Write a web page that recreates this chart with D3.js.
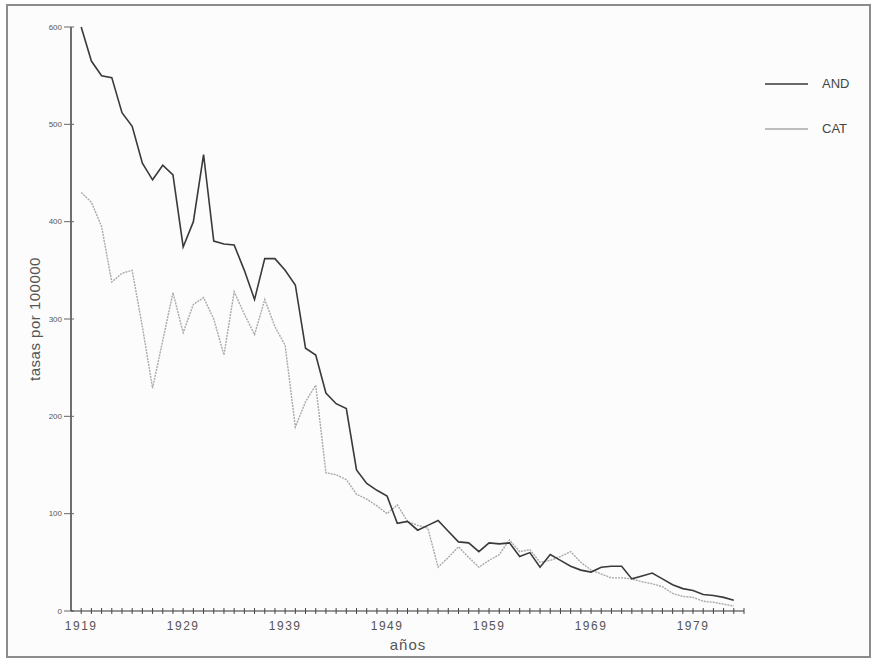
<!DOCTYPE html>
<html>
<head>
<meta charset="utf-8">
<script src="https://cdn.jsdelivr.net/npm/d3@7"></script>
<style>
  body { margin: 0; background: #fff; }
  svg { display: block; }
  text { font-family: "Liberation Sans", "DejaVu Sans", sans-serif; }
</style>
</head>
<body>
<div class="chart"></div>
<script>
//// data

const years = d3.range(1919, 1984);

const andValues = [600, 565, 550, 548, 512, 498, 460, 443, 458, 448,
                   374, 400, 469, 380, 377, 376, 350, 320, 362, 362,
                   350, 335, 270, 263, 224, 213, 208, 145, 131, 124,
                   118, 90, 92, 83, 88, 93, 82, 71, 70, 61,
                   70, 69, 70, 56, 60, 45, 58, 52, 46, 42,
                   40, 45, 46, 46, 33, 36, 39, 33, 27, 23,
                   21, 17, 16, 14, 11];

const catValues = [430, 420, 395, 338, 347, 350, 292, 229, 278, 327,
                   286, 315, 322, 300, 263, 328, 305, 284, 320, 292,
                   273, 189, 215, 232, 142, 140, 135, 120, 115, 108,
                   100, 109, 92, 88, 85, 45, 55, 66, 55, 45,
                   52, 58, 73, 61, 63, 50, 52, 56, 61, 50,
                   42, 38, 34, 34, 33, 30, 28, 25, 18, 15,
                   14, 10, 9, 7, 5];

const yTicks = [0, 100, 200, 300, 400, 500, 600];
const xLabels = [1919, 1929, 1939, 1949, 1959, 1969, 1979];
const seriesNames = ['AND', 'CAT'];

const W = 874, H = 661;

const svg = d3.select('.chart')
    .append('svg')
    .attr('width', W)
    .attr('height', H);

// scanned page frame
svg.append('rect')
    .attr('x', 7).attr('y', 5)
    .attr('width', 863).attr('height', 652)
    .style('fill', '#fcfcfc')
    .style('stroke', '#8c8c8c')
    .style('stroke-width', 2);

const x = d3.scaleLinear().domain([1918, 1984]).range([71, 744]);
const y = d3.scaleLinear().domain([0, 600]).range([611, 27]);

// y axis
const yAxis = svg.append('g').attr('transform', 'translate(71,0)');
yAxis.append('line')
    .attr('y1', y(600)).attr('y2', y(0))
    .style('stroke', '#333').style('stroke-width', 1.4);
yAxis.selectAll('.ytick')
    .data(yTicks)
    .enter().append('g')
    .attr('class', 'ytick')
    .attr('transform', d => `translate(0,${y(d)})`)
    .each(function(d){
        const g = d3.select(this);
        g.append('line').attr('x1', -7).attr('x2', 3)
            .style('stroke', '#666').style('stroke-width', 1);
        g.append('text').attr('x', -9).attr('dy', '0.35em')
            .attr('text-anchor', 'end')
            .style('font-size', '8px').style('fill', '#555')
            .text(d);
    });

// x axis
const xAxis = svg.append('g').attr('transform', `translate(0,${y(0)})`);
xAxis.append('line')
    .attr('x1', 71).attr('x2', 744)
    .style('stroke', '#333').style('stroke-width', 1.2);
xAxis.selectAll('.xtick')
    .data(d3.range(1919, 1985))
    .enter().append('line')
    .attr('class', 'xtick')
    .attr('x1', d => x(d)).attr('x2', d => x(d))
    .attr('y1', -3).attr('y2', 3)
    .style('stroke', '#444').style('stroke-width', 1);
xAxis.selectAll('.xlabel')
    .data(xLabels)
    .enter().append('text')
    .attr('class', 'xlabel')
    .attr('x', d => x(d)).attr('y', 19)
    .attr('text-anchor', 'middle')
    .style('font-size', '12px').style('letter-spacing', '1.5px')
    .style('fill', '#555')
    .text(d => d);

// axis titles
svg.append('text')
    .attr('x', 408).attr('y', 650)
    .attr('text-anchor', 'middle')
    .style('font-size', '15px').style('letter-spacing', '1px')
    .style('fill', '#555')
    .text('años');

svg.append('text')
    .attr('transform', 'translate(40,319) rotate(-90)')
    .attr('text-anchor', 'middle')
    .style('font-size', '15px').style('letter-spacing', '0.5px')
    .style('fill', '#555')
    .text('tasas por 100000');

// lines
const line = d3.line()
    .x((d, i) => x(years[i]))
    .y(d => y(d));

svg.append('path')
    .datum(catValues)
    .attr('d', line)
    .style('fill', 'none')
    .style('stroke', '#a9a9a9')
    .style('stroke-width', 1.4)
    .style('stroke-dasharray', '2,1');

svg.append('path')
    .datum(andValues)
    .attr('d', line)
    .style('fill', 'none')
    .style('stroke', '#3a3a3a')
    .style('stroke-width', 1.6);

// legend
const legend = svg.append('g');
const legendY = [84, 129];
const legendStroke = ['#3a3a3a', '#a9a9a9'];
legend.selectAll('.key')
    .data(seriesNames)
    .enter().append('g')
    .attr('class', 'key')
    .attr('transform', (d, i) => `translate(765,${legendY[i]})`)
    .each(function(d, i){
        const g = d3.select(this);
        g.append('line').attr('x1', 0).attr('x2', 43)
            .style('stroke', legendStroke[i]).style('stroke-width', 1.4);
        g.append('text').attr('x', 57).attr('dy', '0.3em')
            .style('font-size', '13px').style('fill', '#444')
            .text(d);
    });
</script>
</body>
</html>
